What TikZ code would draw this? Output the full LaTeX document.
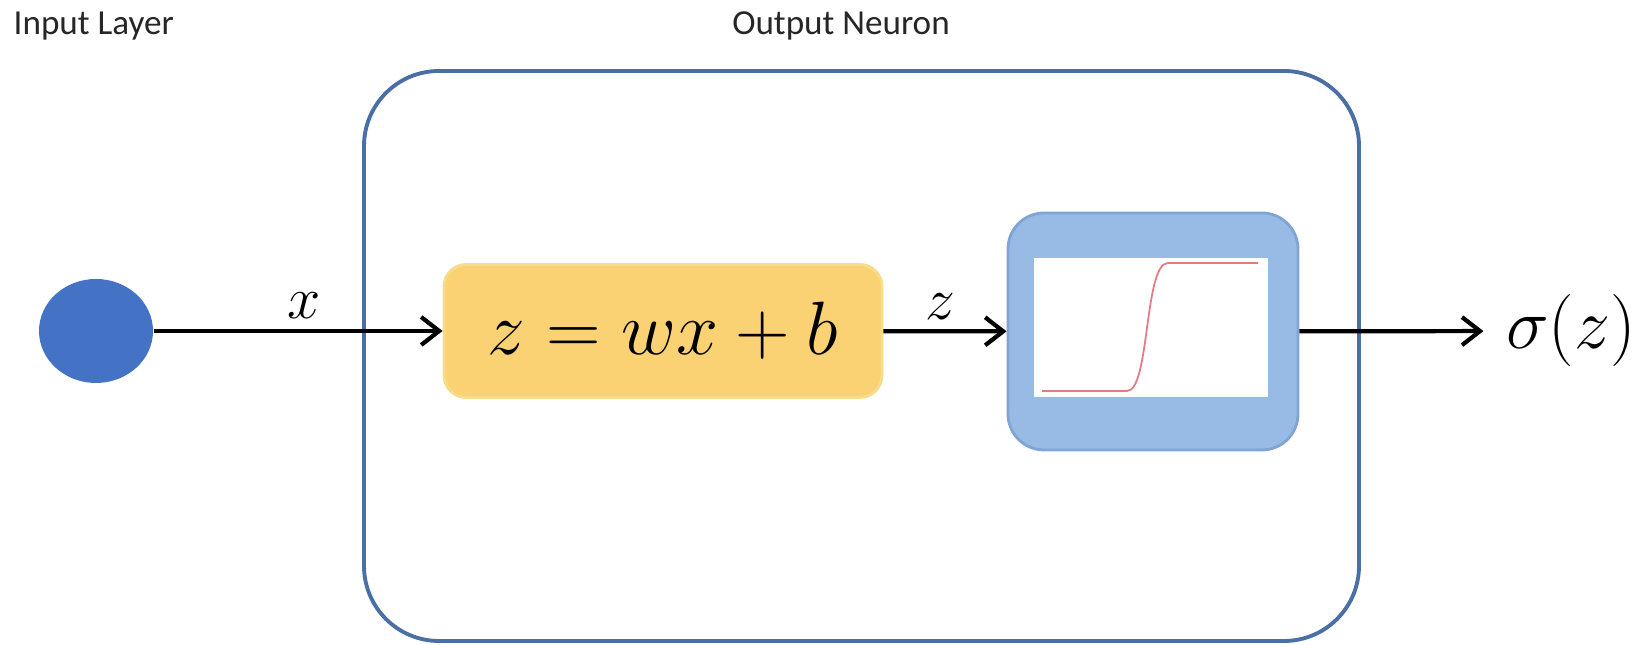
\RequirePackage{fix-cm}
\documentclass[tikz,border=0pt]{standalone}
\usepackage{fontspec}
\setmainfont{Carlito}
\usetikzlibrary{arrows.meta,shapes.geometric}
\definecolor{Frame}{HTML}{4A6FA5}
\definecolor{InputDot}{HTML}{4472C4}
\definecolor{SumFill}{HTML}{FBD273}
\definecolor{SumEdge}{HTML}{F7DC8C}
\definecolor{ActFill}{HTML}{98BBE5}
\definecolor{ActEdge}{HTML}{7FA5D6}
\definecolor{Curve}{HTML}{E57A86}
\tikzset{
  flow/.style={draw=black, line width=1.2pt,
    -{Straight Barb[length=1.8mm,width=2.8mm]}},
  varlabel/.style={font=\fontsize{17}{20}\selectfont, inner sep=0pt},
  heading/.style={font=\fontsize{10}{12}\selectfont, text=black!85, inner sep=0pt}
}

\begin{document}
\begin{tikzpicture}[x=1cm,y=1cm]

  \useasboundingbox (0,0) rectangle (16.42,6.45);

  % headings
  \node[heading, anchor=west] (inlab) at (0.13,6.19) {Input Layer};
  \node[heading] (outlab) at (8.41,6.19) {Output Neuron};

  % neuron frame
  \node[
    draw=Frame,
    line width=1.1pt,
    rounded corners=0.75cm,
    minimum width=9.95cm,
    minimum height=5.70cm
  ] (neuron) at (8.615,2.89) {};

  % input unit
  \node[
    ellipse,
    fill=InputDot,
    inner sep=0pt,
    minimum width=1.14cm,
    minimum height=1.04cm
  ] (input) at (0.96,3.14) {};

  % weighted sum
  \node[
    fill=SumFill,
    draw=SumEdge,
    line width=0.8pt,
    rounded corners=0.22cm,
    minimum width=4.38cm,
    minimum height=1.33cm,
    font=\fontsize{21.5}{26}\selectfont
  ] (sum) at (6.63,3.14) {$z = wx + b$};

  % activation
  \node[
    fill=ActFill,
    draw=ActEdge,
    line width=0.8pt,
    rounded corners=0.36cm,
    minimum width=2.90cm,
    minimum height=2.37cm
  ] (act) at (11.53,3.135) {};

  \fill[white]
    (10.34,2.48) rectangle (12.68,3.87);

  \draw[Curve, line width=0.5pt]
    (10.42,2.54) -- (11.27,2.54)
    .. controls (11.50,2.54) and (11.44,3.82) .. (11.68,3.82)
    -- (12.58,3.82);

  % output
  \node[
    font=\fontsize{20.5}{24}\selectfont,
    inner xsep=0.22cm
  ] (output) at (15.71,3.14) {$\sigma(z)$};

  % connectors
  \draw[flow] (input) -- (sum)
    node[varlabel, pos=0.52, above=0.10cm] (xlab) {$x$};
  \draw[flow] (sum) -- (act)
    node[varlabel, pos=0.46, above=0.10cm] (zlab) {$z$};
  \draw[flow] (act) -- (output);

\end{tikzpicture}
\end{document}
